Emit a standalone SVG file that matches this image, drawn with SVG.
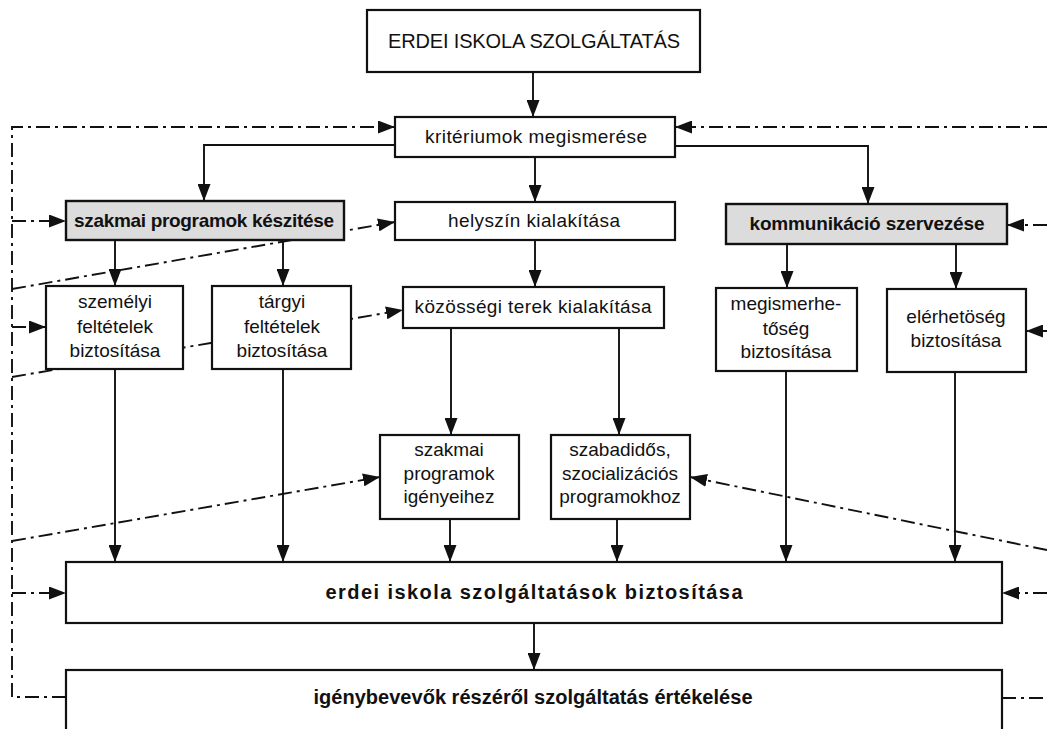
<svg xmlns="http://www.w3.org/2000/svg" width="1047" height="729" viewBox="0 0 1047 729">
<style>
.box{fill:#fff;stroke:#111;stroke-width:2.2}
.shade{fill:#dcdcdc;stroke:#111;stroke-width:2.4}
.t{font-family:"Liberation Sans",Arial,sans-serif;font-size:19px;fill:#111;text-anchor:middle}
.b{font-weight:bold}
.s{fill:none;stroke:#111;stroke-width:1.9}
.d{fill:none;stroke:#111;stroke-width:1.9;stroke-dasharray:14 5 3 5}
</style>
<defs>
<marker id="ah" viewBox="0 0 17 13" refX="17" refY="6.5" markerWidth="17" markerHeight="13" markerUnits="userSpaceOnUse" orient="auto">
<path d="M0,0 L17,6.5 L0,13 z" fill="#111"/>
</marker>
</defs>
<rect width="1047" height="729" fill="#fff"/>

<g id="connectors">
<path class="s" d="M533,72 V117" marker-end="url(#ah)"/>
<path class="s" d="M395,145 H204 V201" marker-end="url(#ah)"/>
<path class="s" d="M675,146 H868 V204" marker-end="url(#ah)"/>
<path class="s" d="M535,157 V202" marker-end="url(#ah)"/>
<path class="s" d="M115,240 V286" marker-end="url(#ah)"/>
<path class="s" d="M283,240 V286" marker-end="url(#ah)"/>
<path class="s" d="M535,240 V287" marker-end="url(#ah)"/>
<path class="s" d="M787,244 V288" marker-end="url(#ah)"/>
<path class="s" d="M956,244 V289" marker-end="url(#ah)"/>
<path class="s" d="M451,328 V435" marker-end="url(#ah)"/>
<path class="s" d="M619,328 V435" marker-end="url(#ah)"/>
<path class="s" d="M115,369 V562" marker-end="url(#ah)"/>
<path class="s" d="M283,369 V562" marker-end="url(#ah)"/>
<path class="s" d="M450,519 V562" marker-end="url(#ah)"/>
<path class="s" d="M617,519 V562" marker-end="url(#ah)"/>
<path class="s" d="M786,371 V562" marker-end="url(#ah)"/>
<path class="s" d="M955,372 V562" marker-end="url(#ah)"/>
<path class="s" d="M534,623 V670" marker-end="url(#ah)"/>

<path class="d" d="M66,697 H12 V127 H395" marker-end="url(#ah)"/>
<path class="d" d="M12,221 H66" marker-end="url(#ah)"/>
<path class="d" d="M12,327 H46" marker-end="url(#ah)"/>
<path class="d" d="M12,593 H66" marker-end="url(#ah)"/>
<path class="d" d="M12,289 L395,222" marker-end="url(#ah)"/>
<path class="d" d="M12,377 L403,310" marker-end="url(#ah)"/>
<path class="d" d="M12,541 L380,477" marker-end="url(#ah)"/>
<path class="d" d="M1047,127 H675" marker-end="url(#ah)"/>
<path class="d" d="M1047,225 H1007" marker-end="url(#ah)"/>
<path class="d" d="M1047,331 H1026" marker-end="url(#ah)"/>
<path class="d" d="M1047,550 L690,477" marker-end="url(#ah)"/>
<path class="d" d="M1047,593 H1002" marker-end="url(#ah)"/>
<path class="d" d="M1002,698 H1047"/>
</g>

<g id="n-title">
<rect class="box" x="367" y="10" width="333" height="62" stroke-width="2.5"/>
<text class="t" x="534" y="48" style="font-size:20px" textLength="292" lengthAdjust="spacing">ERDEI ISKOLA SZOLGÁLTATÁS</text>
</g>
<g id="n-kriterium">
<rect class="box" x="395" y="117" width="280" height="40"/>
<text class="t" x="536" y="143" textLength="222" lengthAdjust="spacing">kritériumok megismerése</text>
</g>
<g id="n-szakmai">
<rect class="shade" x="66" y="201" width="278" height="39"/>
<text class="t b" x="204" y="227" textLength="260" lengthAdjust="spacing">szakmai programok készitése</text>
</g>
<g id="n-helyszin">
<rect class="box" x="395" y="202" width="280" height="38"/>
<text class="t" x="534" y="227" textLength="172" lengthAdjust="spacing">helyszín kialakítása</text>
</g>
<g id="n-kommunikacio">
<rect class="shade" x="726" y="204" width="281" height="40"/>
<text class="t b" x="867" y="230" textLength="235" lengthAdjust="spacing">kommunikáció szervezése</text>
</g>
<g id="n-szemelyi">
<rect class="box" x="46" y="286" width="137" height="83"/>
<text class="t" x="115" y="308">személyi</text>
<text class="t" x="115" y="333">feltételek</text>
<text class="t" x="115" y="357">biztosítása</text>
</g>
<g id="n-targyi">
<rect class="box" x="212" y="286" width="139" height="83"/>
<text class="t" x="282" y="308">tárgyi</text>
<text class="t" x="282" y="333">feltételek</text>
<text class="t" x="282" y="357">biztosítása</text>
</g>
<g id="n-kozossegi">
<rect class="box" x="403" y="287" width="261" height="41"/>
<text class="t" x="533" y="313" textLength="237" lengthAdjust="spacing">közösségi terek kialakítása</text>
</g>
<g id="n-megismerheto">
<rect class="box" x="716" y="288" width="141" height="83"/>
<text class="t" x="786" y="310">megismerhe-</text>
<text class="t" x="786" y="335">tőség</text>
<text class="t" x="786" y="358">biztosítása</text>
</g>
<g id="n-elerheto">
<rect class="box" x="887" y="289" width="139" height="83"/>
<text class="t" x="956" y="323">elérhetöség</text>
<text class="t" x="956" y="347">biztosítása</text>
</g>
<g id="n-igenyeihez">
<rect class="box" x="380" y="435" width="139" height="84"/>
<text class="t" x="449" y="456">szakmai</text>
<text class="t" x="449" y="480">programok</text>
<text class="t" x="449" y="503">igényeihez</text>
</g>
<g id="n-szabadidos">
<rect class="box" x="551" y="435" width="139" height="84"/>
<text class="t" x="620" y="456">szabadidős,</text>
<text class="t" x="620" y="480">szocializációs</text>
<text class="t" x="620" y="503">programokhoz</text>
</g>
<g id="n-biztositas">
<rect class="box" x="66" y="562" width="936" height="61"/>
<text class="t b" x="534" y="599" style="font-size:20px" textLength="417" lengthAdjust="spacing">erdei iskola szolgáltatások biztosítása</text>
</g>
<g id="n-ertekeles">
<rect class="box" x="66" y="670" width="936" height="80"/>
<text class="t b" x="533" y="704" style="font-size:20px" textLength="439" lengthAdjust="spacing">igénybevevők részéről szolgáltatás értékelése</text>
</g>
</svg>
